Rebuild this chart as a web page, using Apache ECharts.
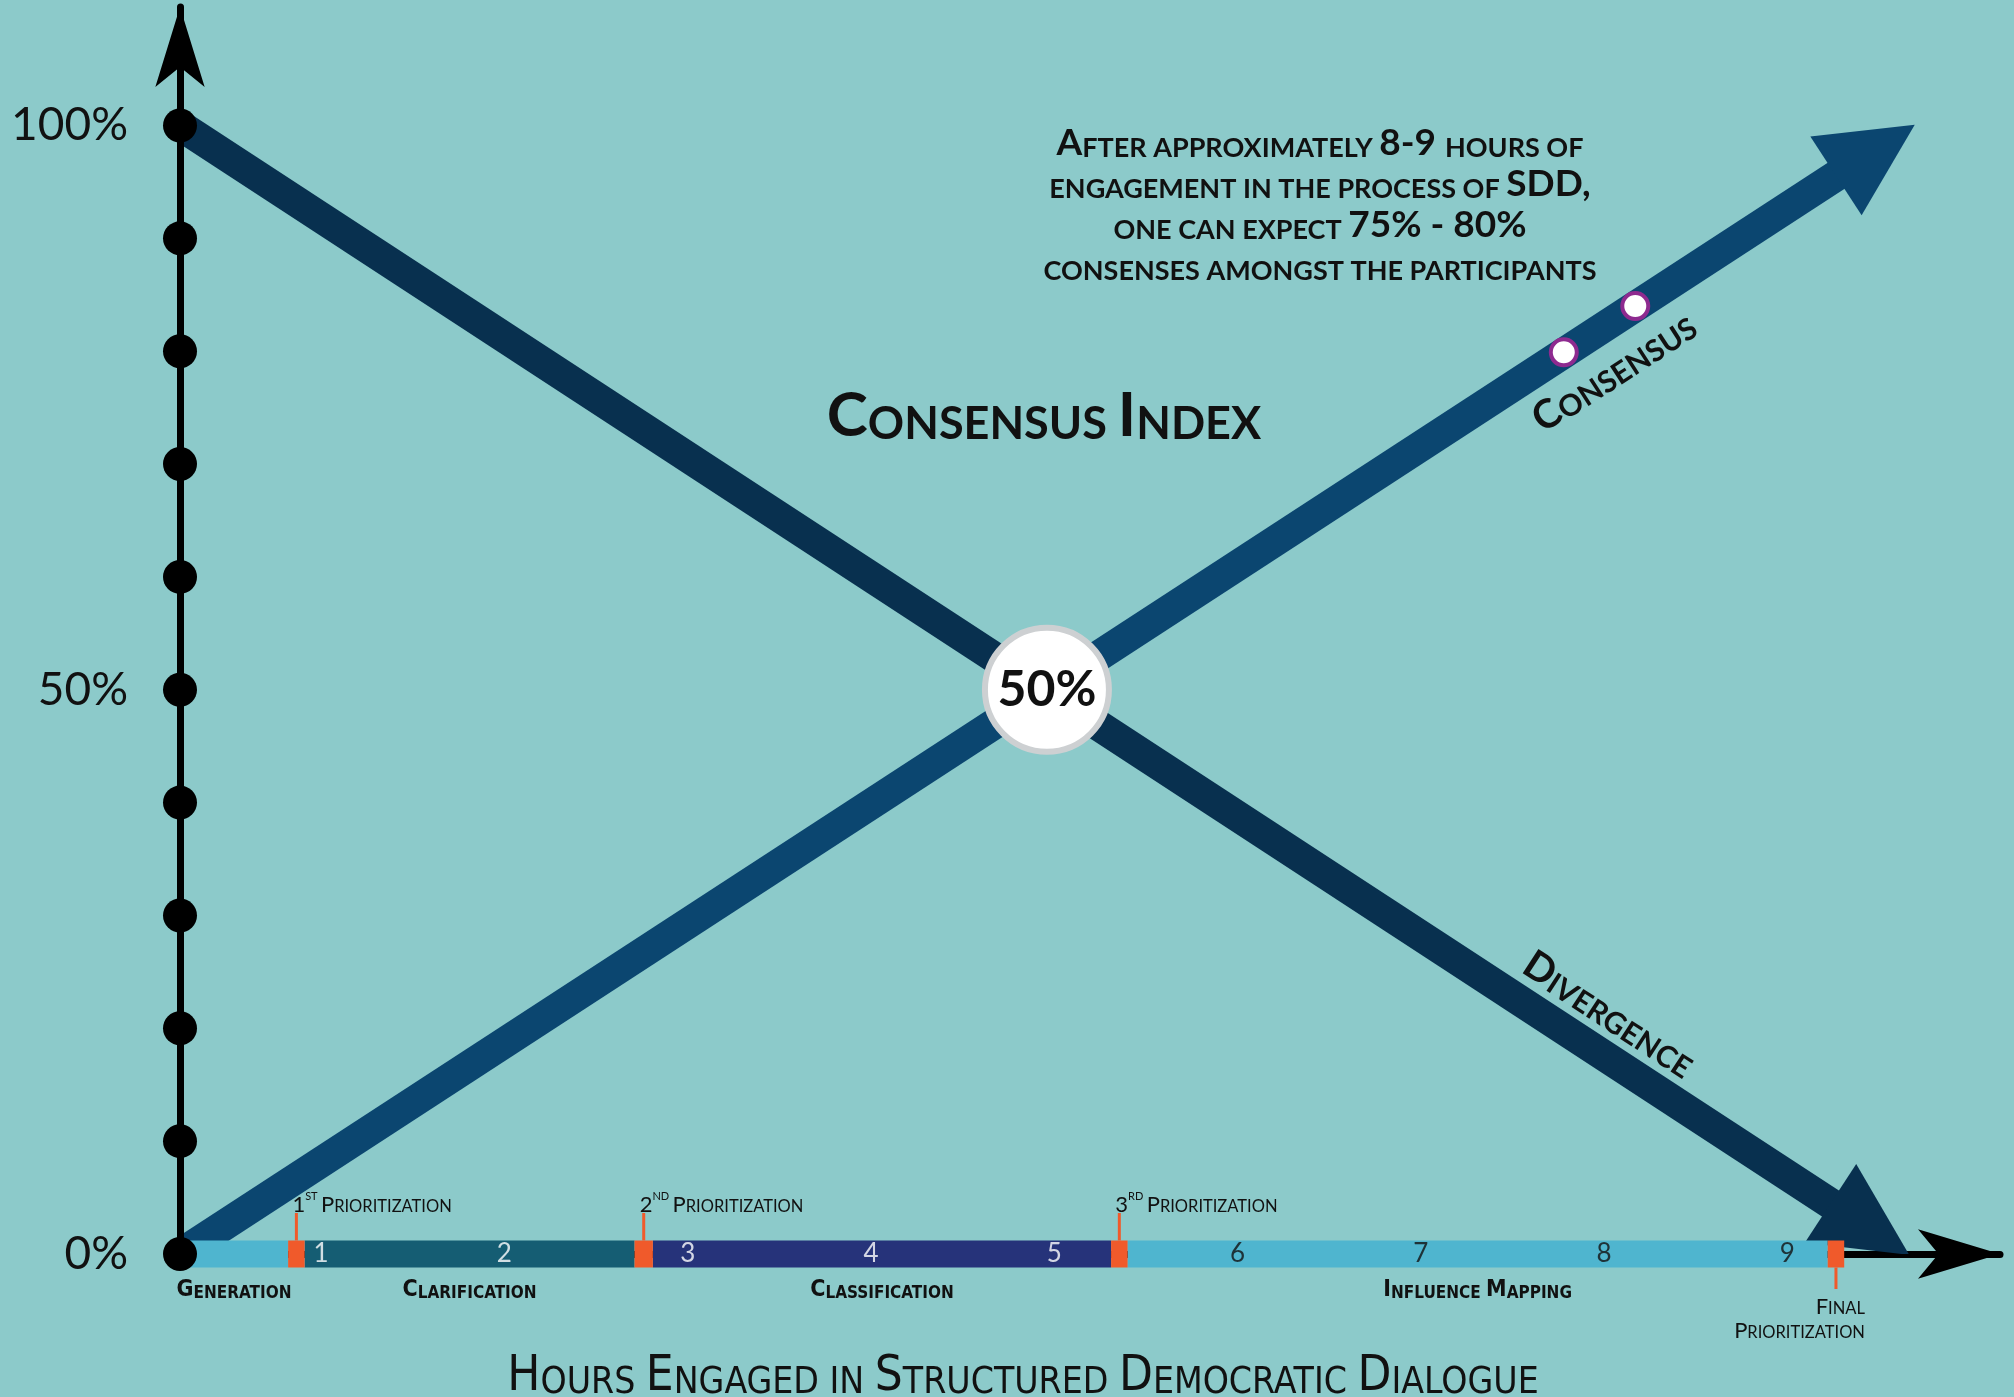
<!DOCTYPE html>
<html>
<head>
<meta charset="utf-8">
<title>Consensus Index</title>
<script src="https://cdn.jsdelivr.net/npm/echarts@6/dist/echarts.min.js"></script>
<style>
  html, body { margin: 0; padding: 0; background: #8ccaca; }
  #chart { width: 2014px; height: 1397px; }
</style>
</head>
<body>
<div id="chart"></div>
<script>
// x = hours counted from the y axis, y = percent
const percentDots = [0, 10, 20, 30, 40, 50, 60, 70, 80, 90, 100];
const yTickLabels = { 0: '0%', 50: '50%', 100: '100%' };

// line shafts end where the arrow heads sit
const divergence = [[0, 100], [9.22, 2.2]];
const consensus = [[0, 0], [9.25, 97.8]];
const crossPoint = [4.73, 50];
const consensusDots = [[7.55, 79.9], [7.94, 84.0]];

const hourNumbers = ['1', '2', '3', '4', '5', '6', '7', '8', '9'];
const hourPositions = [0.77, 1.77, 2.77, 3.77, 4.77, 5.77, 6.77, 7.77, 8.77];

const phaseNames = ['Generation', 'Clarification', 'Classification', 'Influence Mapping'];
const phaseStart = [0, 0.68, 2.58, 5.17];
const phaseEnd = [0.59, 2.48, 5.08, 8.99];

const prioNames = ['1st Prioritization', '2nd Prioritization', '3rd Prioritization', 'Final Prioritization'];
const prioStart = [0.59, 2.48, 5.08, 8.99];
const prioEnd = [0.68, 2.58, 5.17, 9.08];

const titleText = 'Consensus Index';
const noteLines = [
  'After approximately 8-9 hours of',
  'engagement in the process of SDD,',
  'one can expect 75% - 80%',
  'consenses amongst the participants'
];
const xTitle = 'Hours Engaged in Structured Democratic Dialogue';

// styles
const BG = '#8ccaca';
const INK = '#111';
const ORANGE = '#f05a2b';
const phaseColors = ['#4fb5cf', '#155d73', '#26337a', '#4fb5cf'];
const FONT = 'Lato, "Noto Sans", sans-serif';
const NARROW = '"Liberation Sans Narrow", "DejaVu Sans Condensed", Lato, sans-serif';

// lowercase letters become small capitals, everything else stays full size
function smallCaps(str) {
  let out = '', run = '', runBig = null;
  for (const ch of str) {
    const isBig = !(ch >= 'a' && ch <= 'z');
    if (ch !== ' ' && runBig !== null && isBig !== runBig) {
      out += '{' + (runBig ? 'b' : 's') + '|' + run.toUpperCase() + '}';
      run = '';
    }
    if (ch !== ' ' || runBig !== null) run += ch;
    if (ch !== ' ') runBig = isBig;
  }
  if (run) out += '{' + (runBig ? 'b' : 's') + '|' + run.toUpperCase() + '}';
  return out;
}

function capsRich(big, small, weight, family, lh) {
  lh = lh || big;
  return {
    b: { fontSize: big, fontWeight: weight, fontFamily: family, lineHeight: lh, verticalAlign: 'bottom', fill: INK },
    s: { fontSize: small, fontWeight: weight, fontFamily: family, lineHeight: lh, verticalAlign: 'bottom', fill: INK },
    n: { fontSize: big, fontWeight: weight, fontFamily: family, lineHeight: lh, verticalAlign: 'bottom', fill: INK },
    sup: { fontSize: Math.round(small * 0.65), fontWeight: weight, fontFamily: family, lineHeight: lh, verticalAlign: 'top', fill: INK }
  };
}

const prioRich = capsRich(22, 16.5, 'normal', FONT, 25);
const phaseRich = capsRich(23, 17, 'bold', NARROW, 24);

function prioLabel(name) {
  const m = name.match(/^(\d)(st|nd|rd|th) (.*)$/);
  if (m) return '{n|' + m[1] + '}{sup|' + m[2].toUpperCase() + '} ' + smallCaps(m[3]);
  return smallCaps(name);
}

function renderPhase(params, api) {
  const i = params.dataIndex;
  const a = api.coord([api.value(0), 0]);
  const b = api.coord([api.value(1), 0]);
  return {
    type: 'group',
    children: [
      { type: 'rect', shape: { x: a[0], y: a[1] - 13.5, width: b[0] - a[0], height: 27 }, style: { fill: phaseColors[i] } },
      {
        type: 'text', x: (a[0] + b[0]) / 2, y: a[1] + 36,
        style: { text: smallCaps(phaseNames[i]), rich: phaseRich, align: 'center', verticalAlign: 'middle', fill: INK }
      }
    ]
  };
}

function renderPrio(params, api) {
  const i = params.dataIndex;
  const a = api.coord([api.value(0), 0]);
  const b = api.coord([api.value(1), 0]);
  const cx = (a[0] + b[0]) / 2;
  const y = a[1];
  const up = i < prioNames.length - 1;
  const children = [
    { type: 'rect', shape: { x: a[0], y: y - 13.5, width: b[0] - a[0], height: 27 }, style: { fill: ORANGE } },
    {
      type: 'line',
      shape: up ? { x1: cx, y1: y - 13.5, x2: cx, y2: y - 41 } : { x1: cx, y1: y + 13.5, x2: cx, y2: y + 35 },
      style: { stroke: ORANGE, lineWidth: 3 }
    }
  ];
  if (up) {
    children.push({
      type: 'text', x: cx - 4, y: y - 51,
      style: { text: prioLabel(prioNames[i]), rich: prioRich, align: 'left', verticalAlign: 'middle', fill: INK }
    });
  } else {
    const words = prioNames[i].split(' ');
    words.forEach(function (w, k) {
      children.push({
        type: 'text', x: cx + 29, y: y + 51 + k * 24,
        style: { text: smallCaps(w), rich: prioRich, align: 'right', verticalAlign: 'middle', fill: INK }
      });
    });
  }
  return { type: 'group', children: children };
}

const chart = echarts.init(document.getElementById('chart'));

const option = {
  backgroundColor: BG,
  animation: false,
  grid: { left: 180, right: 14, top: 7, bottom: 143, outerBoundsMode: 'none' },
  xAxis: {
    type: 'value', min: 0, max: 9.93,
    axisLine: { show: true, onZero: true, symbol: ['none', 'arrow'], symbolSize: [37, 82], lineStyle: { color: '#000', width: 7 } },
    axisTick: { show: false }, axisLabel: { show: false }, splitLine: { show: false }
  },
  yAxis: {
    type: 'value', min: 0, max: 110.5, interval: 10, z: 3,
    axisLine: { show: true, onZero: true, symbol: ['none', 'arrow'], symbolSize: [37, 80], lineStyle: { color: '#000', width: 7 } },
    axisTick: { show: false }, splitLine: { show: false },
    axisLabel: {
      margin: 52, fontSize: 46, fontFamily: FONT, color: INK,
      formatter: function (v) { return yTickLabels[v] || ''; }
    }
  },
  series: [
    {
      type: 'lines', coordinateSystem: 'cartesian2d', z: 2, silent: true,
      symbol: ['none', 'triangle'], symbolSize: 94,
      data: [
        { coords: divergence, lineStyle: { color: '#08304f', width: 31, opacity: 1 } },
        { coords: consensus, lineStyle: { color: '#0b4670', width: 31, opacity: 1 } }
      ]
    },
    {
      type: 'custom', coordinateSystem: 'cartesian2d', z: 4, silent: true,
      renderItem: renderPhase,
      data: phaseStart.map(function (s, i) { return [s, phaseEnd[i]]; })
    },
    {
      type: 'custom', coordinateSystem: 'cartesian2d', z: 5, silent: true,
      renderItem: renderPrio,
      data: prioStart.map(function (s, i) { return [s, prioEnd[i]]; })
    },
    {
      type: 'scatter', z: 6, silent: true, symbolSize: 1,
      itemStyle: { color: 'rgba(0,0,0,0)' },
      label: {
        show: true, position: 'inside', fontSize: 26, fontFamily: FONT,
        formatter: function (p) { return hourNumbers[p.dataIndex]; }
      },
      data: hourPositions.map(function (x, i) {
        return { value: [x, 0], label: { color: i < 5 ? '#fff' : INK } };
      })
    },
    {
      type: 'scatter', z: 7, silent: true, clip: false, symbolSize: 34,
      itemStyle: { color: '#000', opacity: 1 },
      data: percentDots.map(function (v) { return [0, v]; })
    },
    {
      type: 'scatter', z: 7, silent: true, symbolSize: 26,
      itemStyle: { color: '#fff', borderColor: '#8e2a8f', borderWidth: 4, opacity: 1 },
      data: consensusDots
    },
    {
      type: 'scatter', z: 8, silent: true, symbolSize: 124,
      itemStyle: { color: '#fff', borderColor: '#cdd0d2', borderWidth: 6, opacity: 1 },
      label: { show: true, position: 'inside', formatter: '50%', fontSize: 50, fontWeight: 'bold', fontFamily: FONT, color: INK },
      data: [crossPoint]
    }
  ],
  graphic: [
    {
      type: 'text', x: 1044, y: 416, z: 10,
      style: { text: smallCaps(titleText), rich: capsRich(62, 45, 'bold', FONT, 62), align: 'center', verticalAlign: 'middle', fill: INK }
    },
    {
      type: 'text', x: 1320, y: 203, z: 10,
      style: { text: noteLines.map(smallCaps).join('\n'), rich: capsRich(37, 27, 'bold', FONT, 41), align: 'center', verticalAlign: 'middle', fill: INK }
    },
    {
      type: 'text', x: 1614, y: 372, rotation: 0.576, z: 10,
      style: { text: smallCaps('Consensus'), rich: capsRich(40, 30, 'bold', FONT, 40), align: 'center', verticalAlign: 'middle', fill: INK }
    },
    {
      type: 'text', x: 1609, y: 1014, rotation: -0.576, z: 10,
      style: { text: smallCaps('Divergence'), rich: capsRich(40, 30, 'bold', FONT, 40), align: 'center', verticalAlign: 'middle', fill: INK }
    },
    {
      type: 'text', x: 1023, y: 1377, z: 10,
      style: { text: smallCaps(xTitle), rich: capsRich(49, 37, 'normal', NARROW, 49), align: 'center', verticalAlign: 'middle', fill: INK }
    }
  ]
};

chart.setOption(option);
</script>
</body>
</html>
